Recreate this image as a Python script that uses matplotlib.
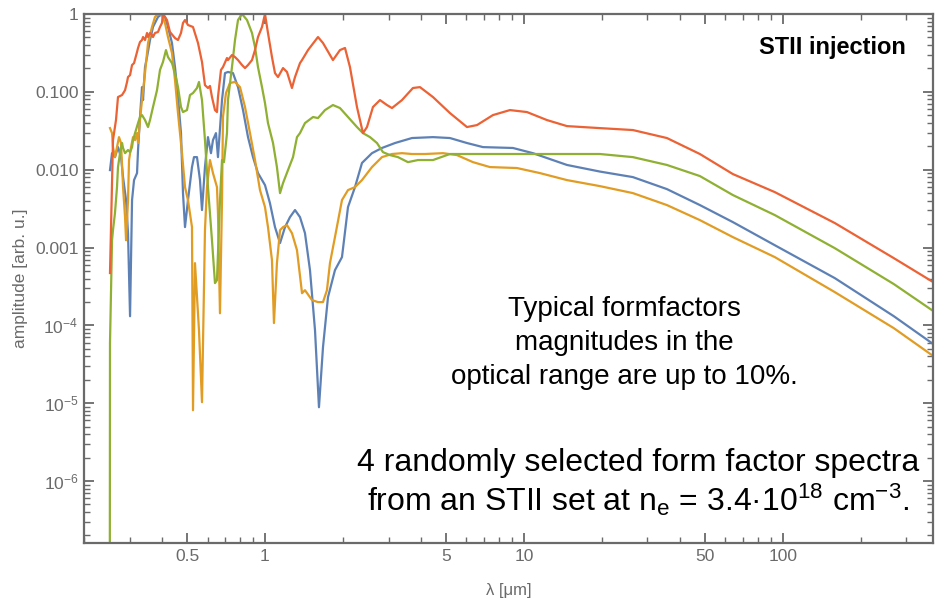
import matplotlib.pyplot as plt
from matplotlib.ticker import LogLocator, NullFormatter

plt.rcParams['font.family'] = ['Liberation Sans', 'DejaVu Sans']
plt.rcParams['mathtext.fontset'] = 'custom'
plt.rcParams['mathtext.rm'] = 'Liberation Sans'
plt.rcParams['mathtext.it'] = 'Liberation Sans:italic'

# wavelength [um] / amplitude [arb. u.] for the four spectra
red_x = [0.252, 0.2588, 0.2658, 0.2706, 0.2805, 0.2881, 0.2933, 0.2958, 0.3012, 0.3066,
         0.3121, 0.3205, 0.3234, 0.3291, 0.3350, 0.3381, 0.3441, 0.3503, 0.3534, 0.3597,
         0.3661, 0.3694, 0.3760, 0.3862, 0.3931, 0.4001, 0.4037, 0.4183, 0.4296, 0.4492,
         0.4613, 0.4738, 0.4823, 0.4910, 0.5042, 0.5272, 0.5511, 0.5711, 0.5864, 0.6023,
         0.6131, 0.6241, 0.6410, 0.6525, 0.6583, 0.6761, 0.6882, 0.7132, 0.7195, 0.7456,
         0.7659, 0.7867, 0.8152, 0.8372, 0.8598, 0.8909, 0.9150, 0.9397, 0.9737, 1.0,
         1.027, 1.064, 1.093, 1.123, 1.174, 1.216, 1.271, 1.306, 1.365, 1.390,
         1.466, 1.602, 1.675, 1.830, 1.948, 2.037, 2.129, 2.266, 2.390, 2.477,
         2.612, 2.780, 2.958, 3.093, 3.381, 3.727, 3.967, 4.454, 5.179, 6.026,
         6.586, 7.593, 8.831, 10.27, 12.27, 14.66, 19.65, 26.35, 35.66, 47.81,
         64.12, 93.1, 158.8, 268.3, 386.3]
red_y = [4.7e-4, 0.0240, 0.0434, 0.0857, 0.0910, 0.105, 0.134, 0.155, 0.164, 0.221,
         0.234, 0.325, 0.366, 0.437, 0.463, 0.506, 0.463, 0.570, 0.506, 0.570,
         0.537, 0.506, 0.570, 0.587, 0.681, 0.766, 1.0, 0.837, 0.587, 0.491,
         0.463, 0.570, 0.766, 0.837, 0.722, 0.681, 0.424, 0.242, 0.122, 0.112,
         0.119, 0.0857, 0.0583, 0.0550, 0.0857, 0.191, 0.208, 0.272, 0.256, 0.297,
         0.280, 0.256, 0.221, 0.202, 0.221, 0.256, 0.344, 0.506, 0.681, 1.0,
         0.570, 0.280, 0.174, 0.155, 0.202, 0.180, 0.112, 0.155, 0.234, 0.256,
         0.344, 0.506, 0.424, 0.256, 0.344, 0.366, 0.208, 0.0638, 0.0295, 0.0353,
         0.0638, 0.0784, 0.0677, 0.0619, 0.0784, 0.112, 0.115, 0.0857, 0.0534, 0.0353,
         0.0374, 0.0503, 0.0583, 0.0550, 0.0434, 0.0363, 0.0342, 0.0323, 0.0255, 0.0159,
         0.00878, 0.00515, 0.00206, 7.3e-4, 3.49e-4]

green_x = [0.2515, 0.252, 0.2566, 0.2588, 0.2634, 0.2682, 0.2706, 0.2755, 0.2805, 0.2830,
           0.2881, 0.2958, 0.3012, 0.3066, 0.3093, 0.3149, 0.3234, 0.3291, 0.3350, 0.3441,
           0.3534, 0.3597, 0.3694, 0.3828, 0.3931, 0.4037, 0.4146, 0.4220, 0.4373, 0.4492,
           0.4613, 0.4738, 0.4823, 0.4997, 0.5133, 0.5272, 0.5462, 0.5560, 0.5711, 0.5864,
           0.6023, 0.6241, 0.6410, 0.6525, 0.6701, 0.6823, 0.6944, 0.7132, 0.7195, 0.7456,
           0.7659, 0.7867, 0.8152, 0.8522, 0.8909, 0.9150, 0.9397, 0.9737, 1.0, 1.027,
           1.074, 1.112, 1.143, 1.174, 1.227, 1.283, 1.329, 1.365, 1.427, 1.533,
           1.602, 1.705, 1.830, 1.948, 2.092, 2.266, 2.390, 2.544, 2.707, 2.855,
           3.038, 3.263, 3.565, 3.896, 4.454, 5.179, 8.078, 14.66, 19.65, 26.35,
           35.66, 47.81, 64.12, 93.1, 158.8, 268.3, 386.3]
green_y = [1e-8, 5.9e-5, 0.00124, 0.00167, 0.00277, 0.00597, 0.0108, 0.0163, 0.0220, 0.0190,
           0.0163, 0.0179, 0.0168, 0.0195, 0.0240, 0.0295, 0.0397, 0.0475, 0.0503, 0.0434,
           0.0353, 0.0434, 0.0638, 0.105, 0.191, 0.242, 0.344, 0.280, 0.234, 0.174,
           0.115, 0.0638, 0.0550, 0.0583, 0.0910, 0.0965, 0.112, 0.134, 0.0784, 0.0240,
           0.00597, 0.00124, 3.49e-4, 3.81e-4, 0.00407, 0.0133, 0.0125, 0.0295, 0.0784, 0.208,
           0.463, 0.837, 1.0, 0.837, 0.570, 0.376, 0.208, 0.115, 0.0718, 0.0397,
           0.0220, 0.0108, 0.00500, 0.00673, 0.00988, 0.0145, 0.0262, 0.0295, 0.0397, 0.0475,
           0.0460, 0.0583, 0.0677, 0.0619, 0.0475, 0.0353, 0.0295, 0.0262, 0.0220, 0.0168,
           0.0154, 0.0145, 0.0125, 0.0133, 0.0133, 0.0159, 0.0159, 0.0159, 0.0159, 0.0145,
           0.0115, 0.00828, 0.00472, 0.00261, 9.8e-4, 3.39e-4, 1.48e-4]

blue_x = [0.252, 0.2566, 0.2634, 0.2706, 0.2780, 0.2830, 0.2907, 0.2958, 0.3012, 0.3066,
          0.3121, 0.3205, 0.3234, 0.3291, 0.3350, 0.3381, 0.3441, 0.3503, 0.3597, 0.3694,
          0.3862, 0.4001, 0.4110, 0.4220, 0.4373, 0.4492, 0.4613, 0.4738, 0.4823, 0.4910,
          0.5042, 0.5225, 0.5319, 0.5462, 0.5610, 0.5711, 0.5864, 0.6023, 0.6186, 0.6297,
          0.6467, 0.6583, 0.6823, 0.7006, 0.7195, 0.7523, 0.7867, 0.8225, 0.8598, 0.8989,
          0.9397, 1.0, 1.045, 1.093, 1.143, 1.195, 1.249, 1.306, 1.365, 1.427,
          1.492, 1.560, 1.616, 1.675, 1.751, 1.863, 1.983, 2.092, 2.226, 2.369,
          2.589, 2.829, 3.177, 3.694, 4.454, 5.179, 6.026, 6.946, 9.070, 10.83,
          14.66, 19.65, 26.35, 35.66, 47.81, 64.12, 93.1, 158.8, 268.3, 386.3]
blue_y = [0.00988, 0.0163, 0.0145, 0.0195, 0.0145, 0.00803, 0.00407, 0.00153, 1.31e-4, 0.00407,
          0.00735, 0.00904, 0.0179, 0.0475, 0.115, 0.0784, 0.208, 0.280, 0.463, 0.681,
          0.915, 1.0, 0.915, 0.681, 0.424, 0.208, 0.0857, 0.0295, 0.00500, 0.00183,
          0.00407, 0.0108, 0.0145, 0.0145, 0.00735, 0.00303, 0.0108, 0.0262, 0.0163, 0.0240,
          0.0295, 0.0145, 0.0784, 0.174, 0.180, 0.174, 0.115, 0.0583, 0.0262, 0.0145,
          0.00904, 0.00634, 0.00372, 0.00183, 0.00114, 0.00183, 0.00246, 0.00303, 0.00246, 0.00153,
          5.12e-4, 8.68e-5, 8.88e-6, 5.25e-5, 2.30e-4, 5.12e-4, 7.53e-4, 0.00331, 0.00597, 0.0122,
          0.0163, 0.0190, 0.0220, 0.0255, 0.0262, 0.0255, 0.0220, 0.0195, 0.0190, 0.0163,
          0.0115, 0.00946, 0.00803, 0.00563, 0.00351, 0.00212, 0.00107, 4.04e-4, 1.31e-4, 5.56e-5]

orange_x = [0.252, 0.2566, 0.2588, 0.2634, 0.2682, 0.2730, 0.2780, 0.2830, 0.2881, 0.2907,
            0.2958, 0.2985, 0.3039, 0.3093, 0.3149, 0.3205, 0.3234, 0.3291, 0.3350, 0.3441,
            0.3534, 0.3661, 0.3760, 0.3862, 0.4001, 0.4110, 0.4220, 0.4373, 0.4492, 0.4613,
            0.4780, 0.4910, 0.5042, 0.5225, 0.5272, 0.5366, 0.5560, 0.5711, 0.5864, 0.5970,
            0.6131, 0.6297, 0.6525, 0.6583, 0.6701, 0.6823, 0.6882, 0.7068, 0.7325, 0.7659,
            0.8008, 0.8372, 0.8752, 0.9150, 0.9565, 1.0, 1.027, 1.064, 1.083, 1.112,
            1.143, 1.174, 1.216, 1.271, 1.329, 1.390, 1.427, 1.519, 1.602, 1.675,
            1.735, 1.782, 1.863, 1.983, 2.092, 2.226, 2.369, 2.589, 2.829, 3.093,
            3.381, 3.694, 4.148, 4.868, 5.511, 6.356, 7.391, 9.397, 11.53, 14.66,
            19.65, 26.35, 35.66, 47.81, 64.12, 93.1, 158.8, 268.3, 386.3]
orange_y = [0.0342, 0.0295, 0.0195, 0.0145, 0.0195, 0.0262, 0.0220, 0.00597, 0.00246, 0.00124,
            0.00407, 0.0133, 0.0195, 0.0262, 0.0240, 0.0295, 0.0220, 0.0434, 0.0784, 0.174,
            0.424, 0.681, 0.915, 1.0, 0.971, 0.766, 0.506, 0.315, 0.142, 0.0534,
            0.0163, 0.00597, 0.00407, 0.00183, 8.13e-6, 6.3e-4, 8.68e-5, 1.03e-5, 0.00167, 0.00597,
            0.0133, 0.00904, 0.00597, 0.00277, 1.43e-4, 0.00407, 0.0475, 0.0965, 0.130, 0.134,
            0.115, 0.0638, 0.0295, 0.0133, 0.00547, 0.00331, 0.00183, 6.89e-4, 1.07e-4, 6.3e-4,
            0.00167, 0.00183, 0.00194, 0.00153, 9.26e-4, 2.59e-4, 2.83e-4, 2.11e-4, 1.99e-4, 1.99e-4,
            2.83e-4, 6.3e-4, 0.00136, 0.00407, 0.00547, 0.00597, 0.00735, 0.0108, 0.0145, 0.0159,
            0.0163, 0.0159, 0.0159, 0.0163, 0.0154, 0.0125, 0.0108, 0.0105, 0.00904, 0.00735,
            0.00615, 0.00500, 0.00351, 0.00225, 0.00136, 7.53e-4, 2.67e-4, 9.2e-5, 3.90e-5]

yticks = [1e-6, 1e-5, 1e-4, 1e-3, 1e-2, 1e-1, 1]
ytick_labels = [r'$\mathregular{10^{-6}}$', r'$\mathregular{10^{-5}}$', r'$\mathregular{10^{-4}}$',
                '0.001', '0.010', '0.100', '1']
xticks = [0.5, 1, 5, 10, 50, 100]
xtick_labels = ['0.5', '1', '5', '10', '50', '100']

gray = '#6a6a6a'
fig = plt.figure(figsize=(9.35, 5.98), dpi=100)
ax = fig.add_axes([84 / 935, 55 / 598, 849 / 935, 529 / 598])

ax.plot(blue_x, blue_y, color='#5E81B5', lw=1.6)
ax.plot(orange_x, orange_y, color='#E19C24', lw=1.6)
ax.plot(green_x, green_y, color='#8FB032', lw=1.6)
ax.plot(red_x, red_y, color='#EB6235', lw=1.6)

ax.set_xscale('log')
ax.set_yscale('log')
ax.set_xlim(0.2, 380)
ax.set_ylim(1.6e-7, 1)

ax.set_xticks(xticks)
ax.set_xticklabels(xtick_labels)
ax.set_yticks(yticks)
ax.set_yticklabels(ytick_labels)
ax.xaxis.set_minor_locator(LogLocator(base=10, subs=range(2, 10), numticks=20))
ax.yaxis.set_minor_locator(LogLocator(base=10, subs=range(2, 10), numticks=20))
ax.xaxis.set_minor_formatter(NullFormatter())
ax.yaxis.set_minor_formatter(NullFormatter())

for s in ax.spines.values():
    s.set_color(gray)
    s.set_linewidth(1.6)
ax.tick_params(which='both', direction='in', top=True, right=True, colors=gray,
               labelcolor=gray, labelsize=12.5)
ax.tick_params(which='major', length=7, width=1.3, pad=4)
ax.tick_params(which='minor', length=4, width=1.0)

ax.set_xlabel('λ [μm]', color=gray, fontsize=12, labelpad=14)
ax.set_ylabel('amplitude [arb. u.]', color=gray, fontsize=12.5, labelpad=5)

ax.text(0.882, 0.937, 'STII injection', transform=ax.transAxes, fontsize=17,
        fontweight='bold', ha='center', va='center', color='black')

ax.text(0.636, 0.442, 'Typical formfactors', transform=ax.transAxes, fontsize=20,
        ha='center', va='center', color='black')
ax.text(0.636, 0.378, 'magnitudes in the', transform=ax.transAxes, fontsize=20,
        ha='center', va='center', color='black')
ax.text(0.636, 0.314, 'optical range are up to 10%.', transform=ax.transAxes, fontsize=20,
        ha='center', va='center', color='black')

ax.text(0.6525, 0.151, '4 randomly selected form factor spectra', transform=ax.transAxes,
        fontsize=23, ha='center', va='center', color='black')
ax.text(0.6525, 0.081,
        r'from an STII set at n$\mathregular{_e}$ = 3.4·10$\mathregular{^{18}}$ cm$\mathregular{^{-3}}$.',
        transform=ax.transAxes, fontsize=23, ha='center', va='center', color='black')

fig.savefig('out.png', dpi=100)
